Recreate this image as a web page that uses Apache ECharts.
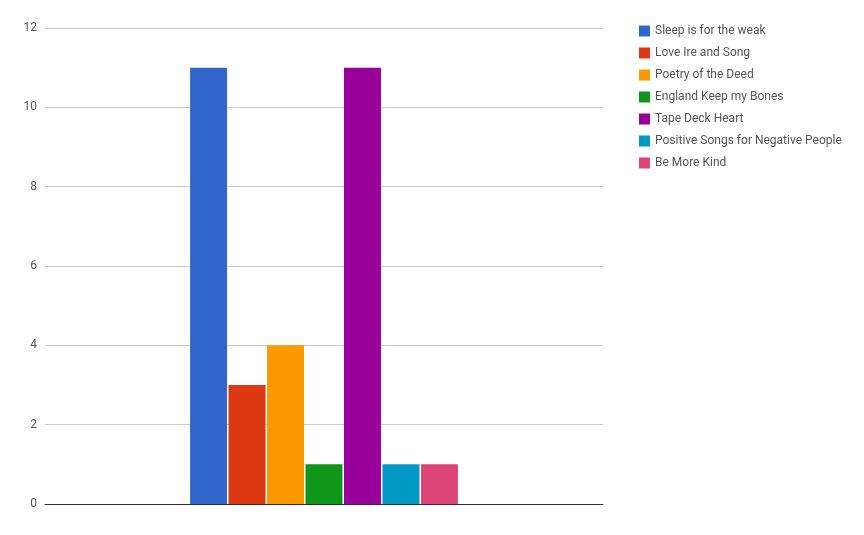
<!DOCTYPE html>
<html><head><meta charset="utf-8">
<script src="https://cdn.jsdelivr.net/npm/echarts@6/dist/echarts.min.js"></script>
<style>html,body{margin:0;background:#fff}#c{width:864px;height:535px}</style>
</head><body><div id="c"></div>
<script>
// one category, one series per album
const albums = ['Sleep is for the weak', 'Love Ire and Song', 'Poetry of the Deed',
  'England Keep my Bones', 'Tape Deck Heart', 'Positive Songs for Negative People', 'Be More Kind'];
const counts = [11, 3, 4, 1, 11, 1, 1];
const colors = ['#3366cc', '#dc3912', '#ff9900', '#109618', '#990099', '#0099c6', '#dd4477'];
const yTicks = { min: 0, max: 12, interval: 2 };

const chart = echarts.init(document.getElementById('c'));
chart.setOption({
  animation: false,
  color: colors,
  textStyle: { fontFamily: 'Roboto' },
  grid: { left: 45, right: 261, top: 28, bottom: 31 },
  legend: {
    orient: 'vertical', left: 634, top: 20, itemGap: 10,
    itemWidth: 11, itemHeight: 11, icon: 'rect',
    textStyle: { color: '#555', fontSize: 12 },
    data: albums
  },
  xAxis: {
    type: 'category', data: [''],
    axisLine: { lineStyle: { color: '#333' } },
    axisTick: { show: false }, axisLabel: { show: false }
  },
  yAxis: {
    type: 'value', ...yTicks,
    axisLine: { show: false }, axisTick: { show: false },
    axisLabel: { color: '#555', fontSize: 12, margin: 8 },
    splitLine: { lineStyle: { color: '#ccc' } }
  },
  series: albums.map((name, i) => ({
    name, type: 'bar', data: [counts[i]],
    barGap: '4%', barCategoryGap: '52%'
  }))
});
</script></body></html>
